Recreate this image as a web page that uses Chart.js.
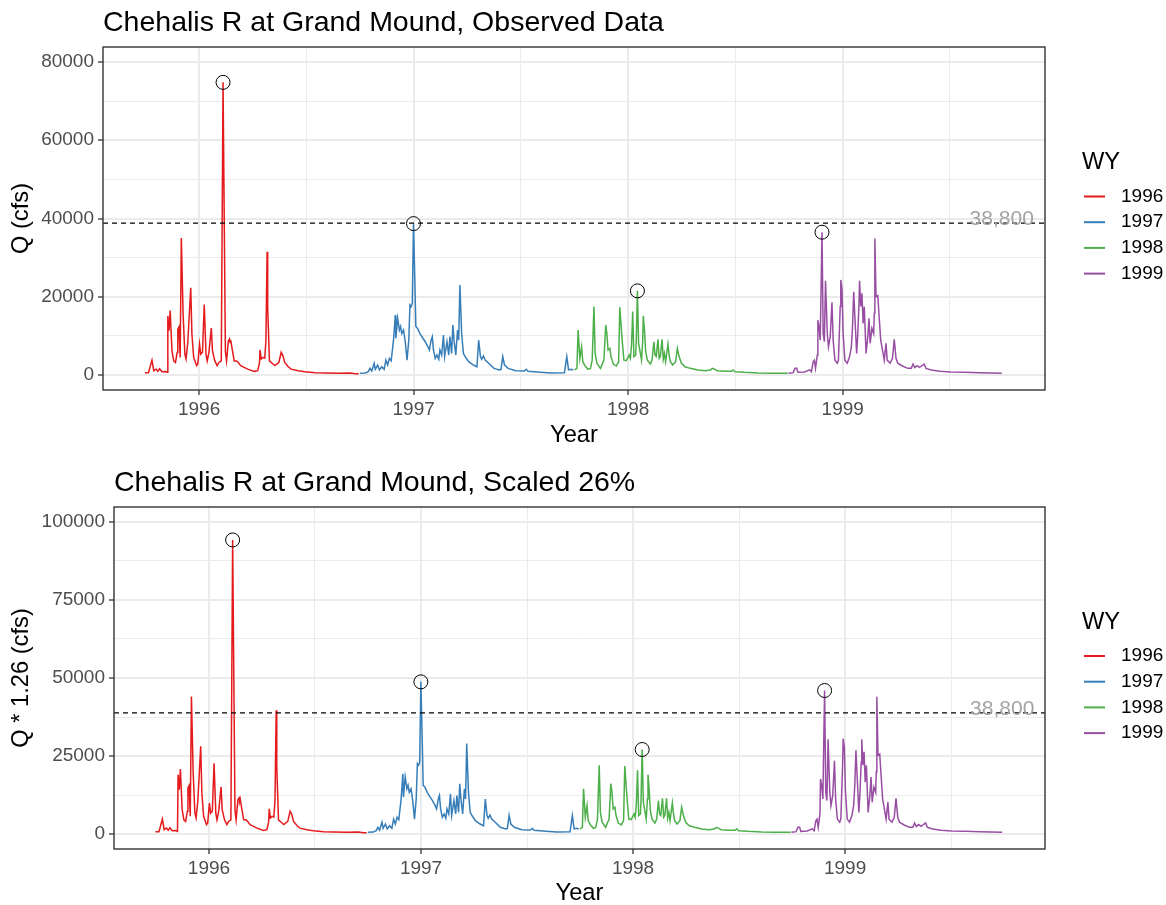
<!DOCTYPE html>
<html>
<head>
<meta charset="utf-8">
<title>Chehalis R at Grand Mound</title>
<script src="https://cdn.jsdelivr.net/npm/chart.js@4.4.1/dist/chart.umd.min.js"></script>
<style>
  html, body { margin: 0; padding: 0; background: #fff; }
  .panel { position: absolute; left: 0; }
  #top { top: 0; }
  #bottom { top: 452px; }
</style>
</head>
<body>
<div class="panel" id="top"><canvas id="observed" width="1166" height="452"></canvas></div>
<div class="panel" id="bottom"><canvas id="scaled" width="1166" height="453"></canvas></div>
<script>
// water years and their colours
var wyYears = [1996, 1997, 1998, 1999];
var wyNames = ["1996", "1997", "1998", "1999"];
var wyColors = ["#E41A1C", "#377EB8", "#4DAF4A", "#984EA3"];

// daily flow, day counted from Oct 1 of the water year, cfs
var wy1996Day = [0, 6, 12, 15, 19, 22, 25, 29, 35, 38, 39, 41, 43, 46, 49, 52, 55, 56, 58, 60, 62, 65, 68, 70, 73, 78, 80, 83, 88, 90,
    93, 95, 98, 101, 104, 106, 109, 113, 115, 119, 123, 126, 130, 133, 137, 139, 142, 144, 145, 146, 149, 152, 156, 159, 163, 169, 175, 186, 192,
    195, 196, 198, 201, 204, 206, 208, 209, 212, 218, 221, 228, 232, 235, 238, 244, 249, 261, 272, 290, 307, 330, 350, 358, 364];
var wy1996Cfs = [600, 600, 3800, 1100, 1500, 950, 1600, 850, 900, 700, 15100, 11300, 16500, 6200, 3600, 3200, 5800, 11700, 12300, 4500, 35000, 15500, 5300, 4100, 8300, 22300, 10400, 4500, 2400, 2800,
    7900, 5300, 5800, 18000, 5300, 3600, 5800, 12000, 6200, 3600, 2400, 3200, 3600, 74800, 6000, 3600, 8700, 9200, 8300, 8900, 6200, 3600, 3600, 3200, 2400, 1950, 1500, 930, 1100,
    3000, 6400, 4100, 4500, 4300, 8700, 31500, 17200, 3600, 2800, 2400, 3200, 5800, 4900, 3200, 2100, 1500, 1100, 850, 600, 500, 420, 500, 340, 340];

var wy1997Day = [1, 10, 15, 18, 21, 25, 27, 31, 34, 38, 42, 45, 48, 51, 54, 58, 61, 62, 65, 68, 70, 72, 75, 78, 81, 84, 86, 88, 90, 92,
    94, 96, 99, 103, 108, 112, 116, 119, 122, 124, 126, 129, 132, 135, 137, 140, 143, 145, 149, 152, 154, 157, 159, 161, 164, 167, 169, 171, 174,
    177, 180, 186, 194, 200, 203, 206, 208, 211, 214, 220, 229, 238, 241, 244, 247, 253, 266, 281, 284, 287, 308, 326, 349, 353, 356, 360, 364];
var wy1997Cfs = [430, 500, 850, 1700, 1000, 3000, 1450, 2550, 1300, 2100, 1450, 3800, 2550, 4250, 3650, 8900, 15300, 9400, 14500, 11500, 12400, 10600, 11500, 8500, 3800, 8900, 17900, 17500, 18300, 38700,
    26000, 12400, 11900, 10600, 9400, 8500, 7400, 6400, 8900, 9800, 6400, 4250, 5100, 4000, 6400, 5100, 10200, 4700, 8500, 5100, 9800, 5500, 12800, 8900, 5100, 11500, 8900, 23000, 10600,
    5500, 4700, 3400, 2550, 2100, 8900, 4700, 4000, 4850, 3800, 3000, 1700, 1300, 1450, 4700, 2550, 1700, 1100, 1000, 1450, 940, 680, 510, 600, 4700, 1300, 1450, 1300];

var wy1998Day = [1, 5, 7, 10, 13, 15, 19, 24, 28, 31, 34, 36, 39, 45, 51, 54, 56, 58, 61, 63, 67, 72, 76, 78, 82, 85, 89, 94, 96, 98,
    100, 102, 105, 106, 108, 110, 113, 115, 117, 118, 120, 122, 125, 130, 133, 136, 138, 140, 143, 145, 147, 150, 152, 154, 156, 160, 162, 164, 168,
    173, 176, 179, 183, 189, 198, 211, 223, 232, 236, 240, 244, 259, 268, 271, 274, 290, 314, 338, 364];
var wy1998Cfs = [1300, 1700, 11500, 4250, 7200, 3400, 2300, 1450, 1700, 3800, 17500, 5500, 3000, 1700, 3800, 12800, 10600, 6400, 6800, 4700, 2800, 2300, 3400, 17300, 8900, 3800, 3650, 5100, 4250, 7700,
    16200, 4700, 5100, 8500, 21500, 8100, 5500, 3800, 8900, 15100, 11500, 6000, 3800, 2800, 3800, 8500, 5100, 4700, 9100, 4250, 4700, 9100, 4000, 5500, 3400, 7900, 5100, 3400, 2550,
    3400, 6800, 4700, 3000, 2100, 1700, 1300, 1100, 1300, 1700, 1450, 1100, 940, 940, 1300, 850, 680, 510, 430, 430];

var wy1999Day = [0, 8, 11, 14, 16, 27, 36, 39, 42, 44, 46, 49, 50, 52, 54, 57, 59, 61, 63, 66, 68, 71, 74, 76, 79, 83, 85, 88, 89, 91,
    93, 96, 100, 104, 107, 109, 111, 113, 116, 118, 120, 121, 123, 125, 127, 129, 132, 135, 137, 139, 142, 145, 146, 147, 149, 152, 154, 157, 161,
    163, 166, 168, 173, 177, 180, 183, 186, 194, 203, 209, 212, 215, 219, 223, 231, 234, 243, 258, 276, 300, 325, 363];
var wy1999Cfs = [430, 600, 1700, 1700, 680, 770, 1300, 850, 3400, 3800, 1700, 5100, 14000, 12400, 8900, 36500, 10600, 8500, 24100, 10600, 7200, 9800, 18600, 8900, 3800, 3000, 3800, 17500, 24300, 22100,
    10600, 3800, 3000, 4700, 7200, 12400, 21300, 14900, 5500, 10600, 18300, 24100, 17500, 20900, 13200, 17500, 5500, 9800, 14500, 8100, 11900, 10600, 15800, 34900, 20000, 20300, 15600, 8900, 5500,
    3800, 8100, 3800, 3000, 4250, 9100, 4250, 3000, 2300, 1700, 1700, 2800, 1900, 2400, 1950, 2800, 1700, 1300, 940, 770, 680, 600, 430];

var flowDays = [wy1996Day, wy1997Day, wy1998Day, wy1999Day];
var flowCfs = [wy1996Cfs, wy1997Cfs, wy1998Cfs, wy1999Cfs];

// flood threshold and the scale-up used on the second panel
var floodThreshold = 38800;
var scaleFactor = 1.26;

// gridlines: whole years carry labels, half years are minor lines
var xGridYears = [1996, 1996.5, 1997, 1997.5, 1998, 1998.5, 1999, 1999.5];
var yLinesObserved = [0, 10000, 20000, 30000, 40000, 50000, 60000, 70000, 80000];
var yLabelsObserved = [0, 20000, 40000, 60000, 80000];
var yLinesScaled = [0, 12500, 25000, 37500, 50000, 62500, 75000, 87500, 100000];
var yLabelsScaled = [0, 25000, 50000, 75000, 100000];

var FONT = "'Liberation Sans', Arial, Helvetica, sans-serif";
Chart.defaults.font.family = FONT;

function toYear(wy, day) {
    return wy - 1 + (273 + day) / 365.25;
}

// panel border, title, WY legend and the threshold line
var panelDecor = {
    id: "panelDecor",
    afterDatasetsDraw: function (chart, args, opts) {
        var ctx = chart.ctx, a = chart.chartArea;
        var ty = chart.scales.y.getPixelForValue(opts.threshold);
        ctx.save();
        ctx.strokeStyle = "#000";
        ctx.lineWidth = 1.3;
        ctx.setLineDash([5, 4]);
        ctx.beginPath();
        ctx.moveTo(a.left, ty);
        ctx.lineTo(a.right, ty);
        ctx.stroke();
        ctx.setLineDash([]);
        ctx.fillStyle = "#A3A3A3";
        ctx.font = "21px " + FONT;
        ctx.textAlign = "center";
        ctx.textBaseline = "middle";
        ctx.fillText(opts.threshold.toLocaleString("en-US"), chart.scales.x.getPixelForValue(opts.labelX), ty - 4);
        ctx.restore();
    },
    afterDraw: function (chart, args, opts) {
        var ctx = chart.ctx, a = chart.chartArea;
        ctx.save();
        ctx.strokeStyle = "#333333";
        ctx.lineWidth = 1.4;
        ctx.strokeRect(a.left, a.top, a.right - a.left, a.bottom - a.top);

        ctx.fillStyle = "#000";
        ctx.textAlign = "left";
        ctx.textBaseline = "alphabetic";
        ctx.font = "28.5px " + FONT;
        ctx.fillText(opts.title, a.left, a.top - 16);

        var cy = (a.top + a.bottom) / 2;
        ctx.textBaseline = "middle";
        ctx.font = "23.7px " + FONT;
        ctx.fillText("WY", a.right + 37, cy - 56);
        ctx.font = "19px " + FONT;
        wyNames.forEach(function (name, i) {
            var ly = cy - 22 + i * 25.7;
            ctx.strokeStyle = wyColors[i];
            ctx.lineWidth = 2;
            ctx.beginPath();
            ctx.moveTo(a.right + 39, ly);
            ctx.lineTo(a.right + 60, ly);
            ctx.stroke();
            ctx.fillStyle = "#000";
            ctx.fillText(name, a.right + 76, ly);
        });
        ctx.restore();
    }
};

function buildPanel(canvasId, p) {
    var lineSets = wyNames.map(function (name, i) {
        return {
            label: name,
            data: flowDays[i].map(function (d, j) {
                return { x: toYear(wyYears[i], d), y: flowCfs[i][j] * p.factor };
            }),
            borderColor: wyColors[i],
            borderWidth: 1.5,
            pointRadius: 0,
            tension: 0,
            fill: false,
            order: 1
        };
    });
    var peaks = lineSets.map(function (s) {
        return s.data.reduce(function (m, q) { return q.y > m.y ? q : m; });
    });
    var last = lineSets[lineSets.length - 1].data;

    new Chart(document.getElementById(canvasId), {
        type: "line",
        data: {
            datasets: lineSets.concat([{
                label: "peak",
                data: peaks,
                showLine: false,
                pointRadius: 7,
                pointHoverRadius: 7,
                pointBorderColor: "#000",
                pointBorderWidth: 1,
                pointBackgroundColor: "rgba(0,0,0,0)",
                order: 0
            }])
        },
        options: {
            responsive: false,
            animation: false,
            events: [],
            layout: { padding: { top: p.top, right: 121, bottom: 0, left: 0 } },
            plugins: {
                legend: { display: false },
                title: { display: false },
                tooltip: { enabled: false },
                panelDecor: { title: p.title, threshold: floodThreshold, labelX: last[last.length - 1].x }
            },
            scales: {
                x: {
                    type: "linear",
                    min: 1995.552,
                    max: 1999.943,
                    afterBuildTicks: function (s) {
                        s.ticks = xGridYears.map(function (v) { return { value: v }; });
                    },
                    afterFit: function (s) { s.height = p.xHeight; },
                    ticks: {
                        autoSkip: false,
                        maxRotation: 0,
                        padding: 3,
                        color: "#4D4D4D",
                        font: { size: 19 },
                        callback: function (v) { return Number.isInteger(v) ? String(v) : ""; }
                    },
                    grid: {
                        color: "#EBEBEB",
                        lineWidth: function (c) { return c.tick && Number.isInteger(c.tick.value) ? 2 : 1; },
                        tickColor: function (c) { return c.tick && Number.isInteger(c.tick.value) ? "#333333" : "rgba(0,0,0,0)"; },
                        tickWidth: 1.3,
                        tickLength: 5
                    },
                    border: { display: false },
                    title: {
                        display: true,
                        text: "Year",
                        color: "#000",
                        font: { size: 23.7, lineHeight: 1 },
                        padding: { top: 0, bottom: p.xTitlePad }
                    }
                },
                y: {
                    type: "linear",
                    min: p.yMin,
                    max: p.yMax,
                    afterBuildTicks: function (s) {
                        s.ticks = p.yLines.map(function (v) { return { value: v }; });
                    },
                    afterFit: function (s) { s.width = p.left; },
                    ticks: {
                        autoSkip: false,
                        padding: 4,
                        color: "#4D4D4D",
                        font: { size: 19 },
                        callback: function (v) { return p.yLabels.indexOf(v) >= 0 ? String(v) : ""; }
                    },
                    grid: {
                        color: "#EBEBEB",
                        lineWidth: function (c) { return c.tick && p.yLabels.indexOf(c.tick.value) >= 0 ? 2 : 1; },
                        tickColor: function (c) { return c.tick && p.yLabels.indexOf(c.tick.value) >= 0 ? "#333333" : "rgba(0,0,0,0)"; },
                        tickWidth: 1.3,
                        tickLength: 5
                    },
                    border: { display: false },
                    title: {
                        display: true,
                        text: p.yTitle,
                        color: "#000",
                        font: { size: 23.7, lineHeight: 1 },
                        padding: { top: 10, bottom: 0 }
                    }
                }
            }
        },
        plugins: [panelDecor]
    });
}

buildPanel("observed", {
    title: "Chehalis R at Grand Mound, Observed Data",
    yTitle: "Q (cfs)",
    factor: 1,
    yMin: -3834,
    yMax: 83834,
    yLines: yLinesObserved,
    yLabels: yLabelsObserved,
    top: 47,
    left: 103,
    xHeight: 62,
    xTitlePad: 5
});

buildPanel("scaled", {
    title: "Chehalis R at Grand Mound, Scaled 26%",
    yTitle: "Q * 1.26 (cfs)",
    factor: scaleFactor,
    yMin: -4800,
    yMax: 104800,
    yLines: yLinesScaled,
    yLabels: yLabelsScaled,
    top: 55,
    left: 114,
    xHeight: 56,
    xTitlePad: 0
});
</script>
</body>
</html>
